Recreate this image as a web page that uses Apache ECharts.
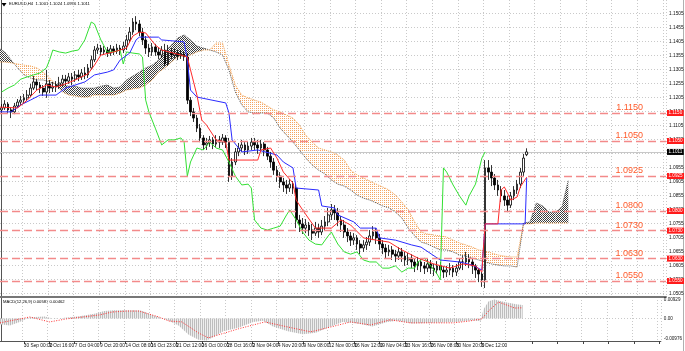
<!DOCTYPE html>
<html><head><meta charset="utf-8">
<script src="https://cdn.jsdelivr.net/npm/echarts@6/dist/echarts.min.js"></script>
<style>html,body{margin:0;padding:0;background:#fff}#c{width:685px;height:351px}</style>
</head><body><div id="c"></div>
<script>
// ---------------- DATA ----------------
const headerText = 'EURUSD,H4  1.1001 1.1024 1.0996 1.1011';
const macdText = 'MACD(12,26,9) 0.00587 0.00462';
const firstLabel = '25 Sep 2015';
const timeLabels = ['30 Sep 00:00','2 Oct 16:00','7 Oct 04:00','9 Oct 20:00','14 Oct 08:00','16 Oct 23:00','21 Oct 12:00','26 Oct 00:00','28 Oct 16:00','2 Nov 04:00','4 Nov 20:00','9 Nov 08:00','12 Nov 00:00','16 Nov 12:00','19 Nov 04:00','23 Nov 16:00','26 Nov 08:00','30 Nov 20:00','3 Dec 12:00','8 Dec 00:00'];
const priceTicks = [1.0505,1.0555,1.0605,1.0655,1.0705,1.0755,1.0805,1.0855,1.0905,1.0955,1.1005,1.1055,1.1105,1.1155,1.1205,1.1255,1.1305,1.1355,1.1405,1.1455,1.1505];
const levels = [1.1150,1.1050,1.0925,1.0800,1.0730,1.0630,1.0550];
const lastPrice = 1.1011;
const macdRange = [-0.00976, 0.00929];

const opens = [1.1161,1.1168,1.1182,1.1161,1.1154,1.1175,1.1189,1.1196,
1.1204,1.1214,1.1239,1.1261,1.1250,1.1239,1.1225,1.1254,
1.1239,1.1243,1.1250,1.1257,1.1271,1.1264,1.1279,1.1271,
1.1286,1.1279,1.1293,1.1286,1.1311,1.1340,1.1375,1.1382,
1.1368,1.1375,1.1364,1.1379,1.1371,1.1382,1.1375,1.1389,
1.1411,1.1439,1.1475,1.1468,1.1439,1.1411,1.1382,1.1368,
1.1386,1.1368,1.1357,1.1375,1.1325,1.1368,1.1357,1.1364,
1.1354,1.1361,1.1350,1.1196,1.1154,1.1132,1.1096,1.1061,
1.1036,1.1043,1.1054,1.1039,1.1054,1.1046,1.1061,1.1046,
1.0925,1.0975,1.1011,1.1025,1.1036,1.1018,1.1032,1.1046,
1.1036,1.1025,1.1039,1.1018,1.0996,1.0975,1.0946,1.0925,
1.0904,1.0893,1.0882,1.0896,1.0882,1.0768,1.0754,1.0739,
1.0750,1.0732,1.0721,1.0739,1.0725,1.0746,1.0761,1.0786,
1.0804,1.0793,1.0768,1.0750,1.0725,1.0711,1.0696,1.0704,
1.0682,1.0668,1.0679,1.0689,1.0711,1.0725,1.0704,1.0682,
1.0668,1.0654,1.0661,1.0646,1.0639,1.0654,1.0639,1.0625,
1.0632,1.0618,1.0604,1.0618,1.0604,1.0596,1.0611,1.0596,
1.0589,1.0604,1.0589,1.0582,1.0589,1.0596,1.0582,1.0596,
1.0618,1.0618,1.0632,1.0618,1.0604,1.0589,1.0575,1.0554,
1.0954,1.0939,1.0918,1.0893,1.0875,1.0854,1.0839,1.0821,
1.0854,1.0875,1.0896,1.0939,1.1001];
const closes = [1.1168,1.1182,1.1161,1.1154,1.1175,1.1189,1.1196,1.1204,
1.1214,1.1239,1.1261,1.1250,1.1239,1.1225,1.1254,1.1239,
1.1243,1.1250,1.1257,1.1271,1.1264,1.1279,1.1271,1.1286,
1.1279,1.1293,1.1286,1.1311,1.1340,1.1375,1.1382,1.1368,
1.1375,1.1364,1.1379,1.1371,1.1382,1.1375,1.1389,1.1411,
1.1439,1.1475,1.1468,1.1439,1.1411,1.1382,1.1368,1.1386,
1.1368,1.1357,1.1375,1.1325,1.1368,1.1357,1.1364,1.1354,
1.1361,1.1350,1.1196,1.1154,1.1132,1.1096,1.1061,1.1036,
1.1043,1.1054,1.1039,1.1054,1.1046,1.1061,1.1046,1.0925,
1.0975,1.1011,1.1025,1.1036,1.1018,1.1032,1.1046,1.1036,
1.1025,1.1039,1.1018,1.0996,1.0975,1.0946,1.0925,1.0904,
1.0893,1.0882,1.0896,1.0882,1.0768,1.0754,1.0739,1.0750,
1.0732,1.0721,1.0739,1.0725,1.0746,1.0761,1.0786,1.0804,
1.0793,1.0768,1.0750,1.0725,1.0711,1.0696,1.0704,1.0682,
1.0668,1.0679,1.0689,1.0711,1.0725,1.0704,1.0682,1.0668,
1.0654,1.0661,1.0646,1.0639,1.0654,1.0639,1.0625,1.0632,
1.0618,1.0604,1.0618,1.0604,1.0596,1.0611,1.0596,1.0589,
1.0604,1.0589,1.0582,1.0589,1.0596,1.0582,1.0596,1.0618,
1.0618,1.0632,1.0618,1.0604,1.0589,1.0575,1.0554,1.0954,
1.0939,1.0918,1.0893,1.0875,1.0854,1.0839,1.0821,1.0854,
1.0875,1.0896,1.0939,1.0989,1.1011];
const highs = [1.1182,1.1196,1.1189,1.1171,1.1186,1.1200,1.1211,1.1218,
1.1232,1.1254,1.1282,1.1271,1.1261,1.1250,1.1304,1.1268,
1.1261,1.1264,1.1279,1.1286,1.1286,1.1293,1.1293,1.1300,
1.1304,1.1307,1.1314,1.1325,1.1355,1.1389,1.1397,1.1393,
1.1389,1.1386,1.1393,1.1389,1.1397,1.1393,1.1404,1.1429,
1.1457,1.1489,1.1496,1.1482,1.1454,1.1425,1.1397,1.1400,
1.1397,1.1382,1.1389,1.1397,1.1393,1.1382,1.1379,1.1375,
1.1375,1.1371,1.1364,1.1207,1.1168,1.1143,1.1111,1.1071,
1.1061,1.1068,1.1064,1.1071,1.1068,1.1075,1.1071,1.1061,
1.0989,1.1025,1.1043,1.1054,1.1046,1.1050,1.1061,1.1061,
1.1054,1.1054,1.1046,1.1029,1.1011,1.0989,1.0961,1.0939,
1.0918,1.0911,1.0914,1.0907,1.0896,1.0786,1.0775,1.0771,
1.0761,1.0754,1.0761,1.0754,1.0768,1.0782,1.0811,1.0825,
1.0821,1.0811,1.0782,1.0768,1.0739,1.0725,1.0721,1.0714,
1.0696,1.0696,1.0707,1.0732,1.0746,1.0739,1.0718,1.0696,
1.0682,1.0679,1.0675,1.0661,1.0671,1.0668,1.0654,1.0650,
1.0646,1.0632,1.0636,1.0632,1.0618,1.0629,1.0625,1.0611,
1.0621,1.0618,1.0604,1.0604,1.0614,1.0607,1.0611,1.0632,
1.0639,1.0654,1.0646,1.0632,1.0611,1.0596,1.0582,1.0982,
1.0982,1.0964,1.0932,1.0911,1.0889,1.0875,1.0854,1.0868,
1.0889,1.0911,1.0954,1.1004,1.1024];
const lows = [1.1150,1.1161,1.1150,1.1132,1.1146,1.1168,1.1179,1.1186,
1.1193,1.1207,1.1232,1.1232,1.1221,1.1211,1.1204,1.1221,
1.1225,1.1225,1.1236,1.1243,1.1246,1.1254,1.1250,1.1261,
1.1264,1.1268,1.1271,1.1275,1.1305,1.1332,1.1361,1.1354,
1.1357,1.1350,1.1354,1.1357,1.1361,1.1357,1.1364,1.1375,
1.1400,1.1429,1.1446,1.1425,1.1393,1.1361,1.1350,1.1354,
1.1354,1.1343,1.1347,1.1318,1.1318,1.1343,1.1347,1.1339,
1.1343,1.1336,1.1182,1.1139,1.1118,1.1082,1.1046,1.1018,
1.1018,1.1029,1.1021,1.1029,1.1025,1.1036,1.1025,1.0904,
1.0911,1.0964,1.0996,1.1011,1.1000,1.1004,1.1018,1.1018,
1.1004,1.1011,1.0996,1.0982,1.0954,1.0929,1.0904,1.0882,
1.0868,1.0861,1.0868,1.0861,1.0739,1.0725,1.0718,1.0721,
1.0711,1.0696,1.0711,1.0704,1.0714,1.0732,1.0746,1.0768,
1.0768,1.0746,1.0725,1.0704,1.0689,1.0675,1.0679,1.0661,
1.0646,1.0654,1.0661,1.0675,1.0696,1.0682,1.0661,1.0646,
1.0632,1.0639,1.0625,1.0618,1.0625,1.0618,1.0604,1.0607,
1.0596,1.0582,1.0589,1.0582,1.0575,1.0582,1.0575,1.0568,
1.0575,1.0568,1.0561,1.0564,1.0571,1.0564,1.0568,1.0589,
1.0589,1.0604,1.0596,1.0575,1.0561,1.0546,1.0529,1.0525,
1.0911,1.0889,1.0875,1.0854,1.0832,1.0818,1.0796,1.0811,
1.0839,1.0861,1.0882,1.0925,1.0996];

// Ichimoku lines: [slot, price] vertices (slot = 8h step)
const tenkan = [[-0.5,1.1171],[5,1.1168],[8,1.1196],[11,1.1232],[14,1.1250],[17,1.1243],[20,1.1254],[23,1.1268],[27,1.1290],[29,1.1321],[31,1.1357],[35,1.1368],[39,1.1382],[41,1.1425],[43,1.1439],[45,1.1436],[48,1.1393],[50,1.1375],[56,1.1357],[58,1.1350],[59,1.1304],[61,1.1214],[62.5,1.1125],[64,1.1107],[67,1.1054],[70,1.1046],[71,1.0982],[80,1.0982],[81,1.1018],[84,1.1025],[86,1.0989],[88,1.0939],[91,1.0900],[92,1.0839],[94,1.0804],[98,1.0739],[103,1.0739],[106,1.0768],[109,1.0750],[113,1.0704],[117,1.0696],[121,1.0689],[125,1.0661],[130,1.0632],[135,1.0611],[140,1.0596],[144,1.0611],[148,1.0604],[150,1.0582],[151,1.0754],[155,1.0754],[156,1.0875],[157,1.0886],[158,1.0864],[159,1.0839],[161,1.0850],[162,1.0886],[164,1.0921]];
const kijun = [[-0.5,1.1154],[3,1.1154],[6,1.1179],[9,1.1196],[12,1.1214],[17,1.1214],[20,1.1239],[23,1.1250],[26,1.1261],[29,1.1286],[33,1.1296],[35,1.1304],[37,1.1339],[40,1.1364],[42,1.1411],[43,1.1421],[49,1.1421],[50,1.1411],[57,1.1404],[58,1.1339],[59,1.1232],[61,1.1207],[70,1.1186],[71,1.1150],[72,1.1054],[75,1.1011],[80,1.1018],[86,1.1000],[88,1.0975],[91,1.0954],[92,1.0882],[99,1.0875],[100,1.0818],[104,1.0811],[105,1.0786],[110,1.0761],[112,1.0739],[117,1.0739],[118,1.0704],[123,1.0696],[128,1.0679],[131,1.0671],[137,1.0625],[143,1.0618],[147,1.0607],[150,1.0589],[151,1.0754],[163.5,1.0754],[164,1.0918]];
const chikou = [[0,1.1225],[2,1.1239],[4,1.1250],[6,1.1271],[8,1.1279],[10,1.1286],[12,1.1293],[14,1.1311],[15,1.1340],[16,1.1375],[18,1.1368],[20,1.1364],[22,1.1371],[24,1.1375],[26,1.1411],[28,1.1475],[29,1.1468],[31,1.1411],[33,1.1368],[35,1.1368],[37,1.1375],[38,1.1325],[39,1.1368],[41,1.1364],[43,1.1361],[44,1.1350],[45,1.1196],[46,1.1154],[48,1.1096],[50,1.1036],[52,1.1054],[54,1.1054],[56,1.1061],[57,1.1046],[58,1.0925],[59,1.0975],[61,1.1025],[63,1.1018],[65,1.1046],[67,1.1025],[69,1.1018],[71,1.0975],[73,1.0925],[75,1.0893],[77,1.0896],[78,1.0882],[79,1.0768],[81,1.0739],[83,1.0732],[85,1.0739],[87,1.0746],[89,1.0786],[90,1.0804],[92,1.0768],[94,1.0725],[96,1.0696],[98,1.0682],[100,1.0679],[102,1.0711],[103,1.0725],[105,1.0682],[107,1.0654],[109,1.0646],[111,1.0654],[113,1.0625],[115,1.0618],[117,1.0618],[119,1.0596],[121,1.0596],[123,1.0604],[125,1.0582],[127,1.0596],[129,1.0596],[130,1.0618],[132,1.0632],[134,1.0604],[136,1.0575],[137,1.0554],[138,1.0954],[139,1.0939],[141,1.0893],[143,1.0854],[145,1.0821],[146,1.0854],[148,1.0896],[150,1.0989],[151,1.1011]];
// Senkou spans, one value every 2 slots starting at slot -1
const spanA = [1.1382,1.1368,1.1339,1.1311,1.1286,1.1275,1.1268,1.1268,1.1261,1.1254,
1.1250,1.1246,1.1246,1.1239,1.1239,1.1239,1.1246,1.1250,1.1239,1.1243,
1.1268,1.1282,1.1296,1.1311,1.1321,1.1339,1.1368,1.1393,1.1418,1.1429,
1.1411,1.1389,1.1382,1.1375,1.1368,1.1357,1.1304,1.1225,1.1179,1.1154,
1.1150,1.1150,1.1150,1.1132,1.1096,1.1071,1.1046,1.1018,1.0989,1.0964,
1.0946,1.0932,1.0911,1.0896,1.0889,1.0875,1.0857,1.0846,1.0839,1.0829,
1.0818,1.0811,1.0796,1.0775,1.0739,1.0711,1.0689,1.0682,1.0671,1.0661,
1.0661,1.0654,1.0643,1.0639,1.0632,1.0625,1.0618,1.0611,1.0607,1.0604,
1.0604,1.0600,1.0757,1.0761,1.0829,1.0818,1.0796,1.0796,1.0814,1.0911];
const spanB = [1.1332,1.1332,1.1329,1.1325,1.1321,1.1318,1.1311,1.1296,1.1275,1.1250,
1.1225,1.1214,1.1211,1.1207,1.1207,1.1214,1.1214,1.1214,1.1214,1.1221,
1.1232,1.1236,1.1239,1.1250,1.1268,1.1296,1.1311,1.1332,1.1350,1.1354,
1.1357,1.1368,1.1375,1.1375,1.1400,1.1400,1.1321,1.1250,1.1214,1.1204,
1.1196,1.1189,1.1175,1.1161,1.1154,1.1143,1.1132,1.1107,1.1071,1.1046,
1.1025,1.1018,1.1011,1.1000,1.0982,1.0946,1.0929,1.0918,1.0907,1.0896,
1.0886,1.0875,1.0857,1.0832,1.0804,1.0761,1.0725,1.0718,1.0714,1.0711,
1.0707,1.0696,1.0686,1.0679,1.0671,1.0661,1.0657,1.0650,1.0643,1.0639,
1.0636,1.0636,1.0754,1.0754,1.0757,1.0757,1.0757,1.0757,1.0757,1.0757];
// MACD
const macdHist = [[-0.5,-0.0025],[2.6,-0.003],[5.7,-0.0015],[8.9,0.0005],[13.6,0.0008],[16.7,-0.0002],[19.8,0.0003],[24.5,0.001],[29.2,0.002],[32.3,0.0032],[35.4,0.0036],[38.6,0.0035],[41.7,0.0036],[43.9,0.0034],[46.4,0.002],[49.5,0.0005],[52.6,-0.001],[55.7,-0.003],[58.9,-0.007],[62,-0.0092],[64.5,-0.0095],[66.7,-0.008],[69.8,-0.0055],[74.5,-0.004],[79.2,-0.0015],[82.3,-0.001],[85.4,-0.0035],[90.1,-0.0055],[94.8,-0.0068],[98.9,-0.0062],[102.6,-0.004],[107.3,-0.0015],[112,-0.0022],[116.7,-0.0035],[121.4,-0.0015],[124.5,-0.001],[129.2,-0.0022],[133.9,-0.002],[138.6,-0.0018],[143.2,-0.0015],[148,-0.0008],[150.7,-0.0012],[151.7,0.004],[153.3,0.0075],[155.1,0.0082],[157.3,0.0075],[159.5,0.0068],[162,0.0062],[164,0.00587]];
const macdSignal = [[-0.5,-0.0019],[8.9,0.00065],[15.1,-0.0015],[20.4,-0.0002],[30.75,0.0015],[34.8,0.0028],[39.2,0.0032],[43.25,0.0032],[49.5,0.00065],[52.6,-0.0011],[56.7,-0.0015],[62,-0.0063],[65.1,-0.0084],[71.4,-0.0058],[74.5,-0.0045],[82.9,-0.0015],[90.1,-0.0037],[97.3,-0.0058],[103.6,-0.0037],[109.8,-0.0015],[116.1,-0.0028],[122.3,-0.0006],[128.6,-0.0019],[134.8,-0.0019],[142.3,-0.0019],[147.3,-0.0011],[151.1,-0.0002],[153.6,0.0037],[156.4,0.0071],[159,0.0058],[161.5,0.0045],[164,0.00462]];

// ---------------- LAYOUT / BUILD ----------------
const N_SLOTS = 208, TICK0 = 7, TICKSTEP = 8;
const PMAX = 1.15536, PMIN = 1.15536 - 297/2800;
const FONT = 'Liberation Sans';
const isTick = i => i >= TICK0 && (i - TICK0) % TICKSTEP === 0;
const catLabels = Array.from({length: N_SLOTS}, (_, i) => {
  if (i === 0) return firstLabel;
  if (isTick(i)) return timeLabels[(i - TICK0) / TICKSTEP] || '';
  return '';
});
const candleData = opens.map((o, i) => [o, closes[i], lows[i], highs[i]]);
const spanSlots = spanA.map((_, j) => 2 * j - 1);

function makePattern(c1, c2, w, h, cells) {
  const c = document.createElement('canvas'); c.width = w; c.height = h;
  const g = c.getContext('2d');
  g.fillStyle = c2; g.fillRect(0, 0, w, h);
  g.fillStyle = c1; cells.forEach(p => g.fillRect(p[0], p[1], 1, 1));
  return {image: c, repeat: 'repeat'};
}
const patOrange = makePattern('#f4a460', '#ffffff', 2, 2, [[0,0]]);
const patGray = makePattern('#3a3a3a', '#ffffff', 2, 2, [[0,0],[1,1]]);
const patHist = makePattern('#bdbdbd', '#eeeeee', 2, 1, [[0,0]]);

const gridLineStyle = {color: '#c9c9c9', type: [1, 2], width: 1};
function markSet(values, lineStyle, label, z) {
  return {silent: true, symbol: ['none', 'none'], z: z, animation: false, precision: 6,
          lineStyle: lineStyle, label: label, data: values.map(v => ({yAxis: v}))};
}
const chart = echarts.init(document.getElementById('c'), null, {renderer: 'canvas'});
chart.setOption({
  animation: false,
  backgroundColor: '#ffffff',
  grid: [
    {left: 0, right: 19, top: 0, height: 297},
    {left: 0, right: 19, top: 297, height: 44}
  ],
  xAxis: [
    {type: 'category', gridIndex: 0, data: catLabels, axisLine: {show: true, onZero: false, lineStyle: {color: '#777', width: 2}},
     axisTick: {show: false}, axisLabel: {show: false}, splitLine: {show: true, interval: (i) => isTick(i), lineStyle: gridLineStyle}},
    {type: 'value', gridIndex: 0, min: -0.5, max: N_SLOTS - 0.5, show: false},
    {type: 'category', gridIndex: 1, data: catLabels, axisLine: {show: true, onZero: false, lineStyle: {color: '#555', width: 1}},
     axisTick: {show: true, interval: (i) => isTick(i), alignWithLabel: true, length: 3, lineStyle: {color: '#444'}},
     axisLabel: {show: true, interval: (i) => i === 0 || (isTick(i) && catLabels[i] !== ''), align: 'left', fontSize: 4.8, fontFamily: FONT, color: '#111', margin: 2},
     splitLine: {show: true, interval: (i) => isTick(i), lineStyle: gridLineStyle}},
    {type: 'value', gridIndex: 1, min: -0.5, max: N_SLOTS - 0.5, show: false}
  ],
  yAxis: [
    {type: 'value', gridIndex: 0, position: 'right', min: PMIN, max: PMAX,
     axisLine: {show: true, lineStyle: {color: '#555'}}, axisTick: {show: false}, axisLabel: {show: false}, splitLine: {show: false}},
    {type: 'value', gridIndex: 1, position: 'right', min: macdRange[0], max: macdRange[1], interval: -macdRange[0],
     axisLine: {show: true, lineStyle: {color: '#555'}}, axisTick: {show: false},
     axisLabel: {fontSize: 4.6, fontFamily: FONT, color: '#111', margin: 3,
       formatter: v => Math.abs(v) < 1e-9 ? '0.00' : (v > 0 ? '{t|' + v.toFixed(5) + '}' : '{b|' + v.toFixed(5) + '}'),
       rich: {t: {fontSize: 4.6, fontFamily: FONT, color: '#111', padding: [6, 0, 0, 0]}, b: {fontSize: 4.6, fontFamily: FONT, color: '#111', padding: [0, 0, 5, 0]}}},
     splitLine: {show: true, lineStyle: gridLineStyle}}
  ],
  series: [
    // Kumo
    {type: 'custom', xAxisIndex: 1, yAxisIndex: 0, clip: true, silent: true, z: 1,
     data: spanA.slice(0, -1).map((a, j) => [spanSlots[j], a, spanB[j]]),
     encode: {x: 0, y: [1, 2]},
     renderItem: function (params, api) {
       const j = params.dataIndex;
       const x0 = spanSlots[j], x1 = spanSlots[j + 1];
       const a0 = spanA[j], a1 = spanA[j + 1], b0 = spanB[j], b1 = spanB[j + 1];
       const d0 = a0 - b0, d1 = a1 - b1;
       const pieces = [];
       if (d0 * d1 < 0) {
         const t = d0 / (d0 - d1);
         const xm = x0 + t * (x1 - x0), ym = a0 + t * (a1 - a0);
         pieces.push({pts: [[x0, a0], [xm, ym], [x0, b0]], up: d0 > 0});
         pieces.push({pts: [[xm, ym], [x1, a1], [x1, b1]], up: d1 > 0});
       } else {
         pieces.push({pts: [[x0, a0], [x1, a1], [x1, b1], [x0, b0]], up: (d0 + d1) > 0});
       }
       return {type: 'group', children: pieces.map(p => ({
         type: 'polygon', shape: {points: p.pts.map(q => api.coord(q))},
         style: {fill: p.up ? patGray : patOrange, stroke: null}}))};
     }},
    // Span A (+ price grid lines and right axis labels)
    {type: 'line', name: 'SpanA', xAxisIndex: 1, yAxisIndex: 0, data: spanA.map((v, j) => [spanSlots[j], v]), showSymbol: false, symbol: 'none', z: 2,
     lineStyle: {color: '#555', width: 1, type: [1, 1]},
     markLine: markSet(priceTicks, gridLineStyle,
       {show: true, position: 'end', distance: 3, formatter: p => p.value.toFixed(4), fontSize: 4.8, fontFamily: FONT, color: '#111'}, 1)},
    // Span B (+ last price line)
    {type: 'line', name: 'SpanB', xAxisIndex: 1, yAxisIndex: 0, data: spanB.map((v, j) => [spanSlots[j], v]), showSymbol: false, symbol: 'none', z: 2,
     lineStyle: {color: '#f0a050', width: 1, type: [1, 1]},
     markLine: markSet([lastPrice], {color: '#c8c8c8', width: 1, type: 'solid'},
       {show: true, position: 'end', distance: 1, formatter: p => p.value.toFixed(4), fontSize: 4.6, fontFamily: FONT,
        color: '#ffffff', backgroundColor: '#000000', padding: [0.5, 1.5]}, 2)},
    // candles
    {type: 'candlestick', xAxisIndex: 0, yAxisIndex: 0, data: candleData, barWidth: 2.2, z: 3,
     itemStyle: {color: '#ffffff', color0: '#000000', borderColor: '#000000', borderColor0: '#000000', borderWidth: 0.8}},
    // Ichimoku lines
    {type: 'line', name: 'Chikou', xAxisIndex: 1, yAxisIndex: 0, data: chikou, showSymbol: false, symbol: 'none', z: 4,
     lineStyle: {color: '#33e033', width: 1}},
    {type: 'line', name: 'Kijun', xAxisIndex: 1, yAxisIndex: 0, data: kijun, showSymbol: false, symbol: 'none', z: 4,
     lineStyle: {color: '#2b2bff', width: 1},
     markLine: markSet(levels, {color: 'rgba(0,0,0,0)', width: 1},
       {show: true, position: 'insideEndTop', distance: 1, formatter: p => p.value.toFixed(4), fontSize: 9, fontFamily: FONT,
        color: '#ff5a2a', padding: [0, 22, 0, 0]}, 6)},
    {type: 'line', name: 'Tenkan', xAxisIndex: 1, yAxisIndex: 0, data: tenkan, showSymbol: false, symbol: 'none', z: 4,
     lineStyle: {color: '#ff2a2a', width: 1},
     markLine: markSet(levels, {color: '#f38a8a', width: 1.4, type: [8, 4]},
       {show: true, position: 'end', distance: 1, formatter: p => p.value.toFixed(4), fontSize: 4.6, fontFamily: FONT,
        color: '#ffffff', backgroundColor: '#ff1a1a', padding: [0.5, 1.5]}, 6)},
    // MACD
    {type: 'line', name: 'MACD', xAxisIndex: 3, yAxisIndex: 1, data: macdHist, showSymbol: false, symbol: 'none', z: 2,
     lineStyle: {width: 0, opacity: 0}, areaStyle: {color: patHist, opacity: 1}},
    {type: 'line', name: 'Signal', xAxisIndex: 3, yAxisIndex: 1, data: macdSignal, showSymbol: false, symbol: 'none', z: 3,
     lineStyle: {color: '#ff3030', width: 1, type: [1, 1.5]}}
  ],
  graphic: [
    {type: 'polygon', shape: {points: [[1.5, 3], [6.5, 3], [4, 6.5]]}, style: {fill: '#000'}},
    {type: 'text', left: 9, top: 2, style: {text: headerText, font: '4.2px "Liberation Sans"', fill: '#000'}},
    {type: 'text', left: 3, top: 300, style: {text: macdText, font: '4.2px "Liberation Sans"', fill: '#000'}},
    {type: 'line', shape: {x1: 683.5, y1: 0, x2: 683.5, y2: 351}, style: {stroke: '#b0b0b0', lineWidth: 1}}
  ]
});
</script></body></html>
